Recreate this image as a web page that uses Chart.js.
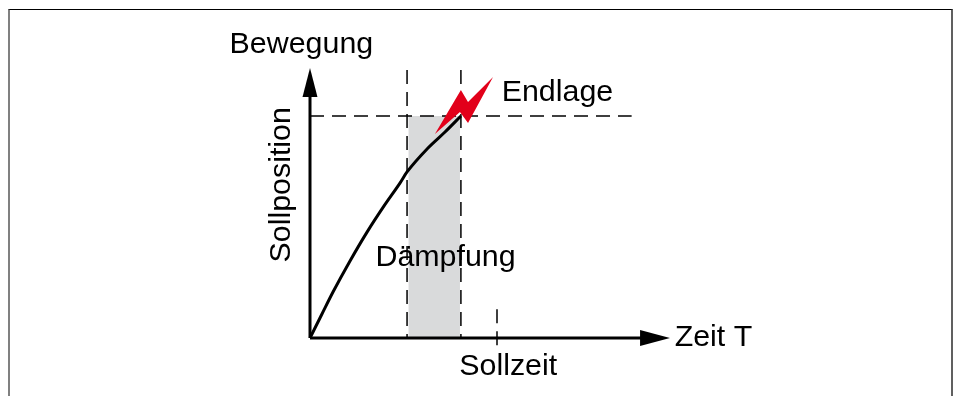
<!DOCTYPE html>
<html>
<head>
<meta charset="utf-8">
<style>
  html, body { margin: 0; padding: 0; background: #fff; overflow: hidden; }
  #wrap { position: relative; width: 954px; height: 396px; }
  canvas { display: block; }
  #frame { position: absolute; left: 8px; top: 9px; width: 941px; height: 387px;
           border-top: 1px solid #000; border-left: 2px solid #808080; border-right: 2px solid #606060; box-sizing: content-box; }
</style>
</head>
<body>
<div id="wrap">
  <canvas id="chart" width="954" height="396"></canvas>
  <div id="frame"></div>
</div>
<script src="https://cdn.jsdelivr.net/npm/chart.js@4"></script>
<script>
// Zeit in Einheiten der Sollzeit, Position in Einheiten der Sollposition
const curveT = [0, 0.064, 0.123, 0.214, 0.305, 0.396, 0.481, 0.519, 0.631, 0.722, 0.807];
const curveS = [0, 0.108, 0.207, 0.347, 0.477, 0.595, 0.698, 0.748, 0.856, 0.928, 1];

const daempfungStart = 0.519;
const daempfungEnde = 0.807;
const sollzeit = 1;
const sollposition = 1;

const axisEndT = 1.925;
const axisEndS = 1.216;
const dashEndS = 1.207;
const dashEndT = 1.72;

const shadeT = [0.527, 0.802, 0.802, 0.527];
const shadeS = [0, 0, 1, 1];
const boltT = [0.979, 0.845, 0.807, 0.668, 0.802, 0.845];
const boltS = [1.176, 1.063, 1.117, 0.919, 1.018, 0.968];
const arrowUpT = [-0.04, 0, 0.04];
const arrowUpS = [1.086, axisEndS, 1.086];
const arrowRightT = [1.765, axisEndT, 1.765];
const arrowRightS = [0.036, 0, -0.036];

const pts = (xs, ys) => xs.map((x, i) => ({ x, y: ys[i] }));

const labels = [
  { text: 'Bewegung', t: -0.43, s: 1.32, align: 'left' },
  { text: 'Endlage', t: 1.025, s: 1.106, align: 'left' },
  { text: 'Dämpfung', t: 0.35, s: 0.36, align: 'left' },
  { text: 'Zeit T', t: 1.95, s: 0, align: 'left' },
  { text: 'Sollzeit', t: 1.06, s: -0.13, align: 'center' },
  { text: 'Sollposition', t: -0.15, s: 0.69, align: 'center', rotate: true }
];

function drawPolygon(chart, ts, ss, color) {
  const { ctx, scales: { x, y } } = chart;
  ctx.save();
  ctx.fillStyle = color;
  ctx.beginPath();
  ts.forEach((t, i) => ctx.lineTo(x.getPixelForValue(t), y.getPixelForValue(ss[i])));
  ctx.closePath();
  ctx.fill();
  ctx.restore();
}

const shapesPlugin = {
  id: 'shapes',
  beforeDatasetsDraw(chart) {
    drawPolygon(chart, shadeT, shadeS, '#d9dadb');
  },
  afterDatasetsDraw(chart) {
    drawPolygon(chart, boltT, boltS, '#e2001a');
    drawPolygon(chart, arrowUpT, arrowUpS, '#000');
    drawPolygon(chart, arrowRightT, arrowRightS, '#000');

    const { ctx, scales: { x, y } } = chart;
    ctx.save();
    ctx.fillStyle = '#000';
    ctx.font = '30.4px "Liberation Sans"';
    ctx.textBaseline = 'middle';
    labels.forEach(l => {
      ctx.save();
      ctx.translate(x.getPixelForValue(l.t), y.getPixelForValue(l.s));
      if (l.rotate) ctx.rotate(-Math.PI / 2);
      ctx.textAlign = l.align;
      ctx.fillText(l.text, 0, 0);
      ctx.restore();
    });
    ctx.restore();
  }
};

const line = (data, extra) => Object.assign({
  data,
  showLine: true,
  pointRadius: 0,
  borderColor: '#000',
  borderWidth: 1.5,
  fill: false,
  tension: 0,
  clip: false
}, extra);

const dash = { borderDash: [14, 8], borderWidth: 1.5 };

new Chart(document.getElementById('chart'), {
  type: 'scatter',
  data: {
    datasets: [
      line(pts(curveT, curveS), { borderWidth: 3, cubicInterpolationMode: 'monotone' }),
      line(pts([0, 0], [0, 1.09]), { borderWidth: 3 }),
      line(pts([0, 1.8], [0, 0]), { borderWidth: 3 }),
      line(pts([daempfungStart, daempfungStart], [dashEndS, 0]), dash),
      line(pts([daempfungEnde, daempfungEnde], [dashEndS, 0]), dash),
      line(pts([0, dashEndT], [sollposition, sollposition]), dash),
      line(pts([sollzeit, sollzeit], [0.13, -0.036]), dash)
    ]
  },
  options: {
    responsive: false,
    animation: false,
    layout: { padding: { left: 310, right: 284, top: 48, bottom: 58 } },
    plugins: { legend: { display: false }, tooltip: { enabled: false } },
    scales: {
      x: { type: 'linear', display: false, min: 0, max: 360 / 187 },
      y: { type: 'linear', display: false, min: 0, max: 290 / 222 }
    }
  },
  plugins: [shapesPlugin]
});
</script>
</body>
</html>
